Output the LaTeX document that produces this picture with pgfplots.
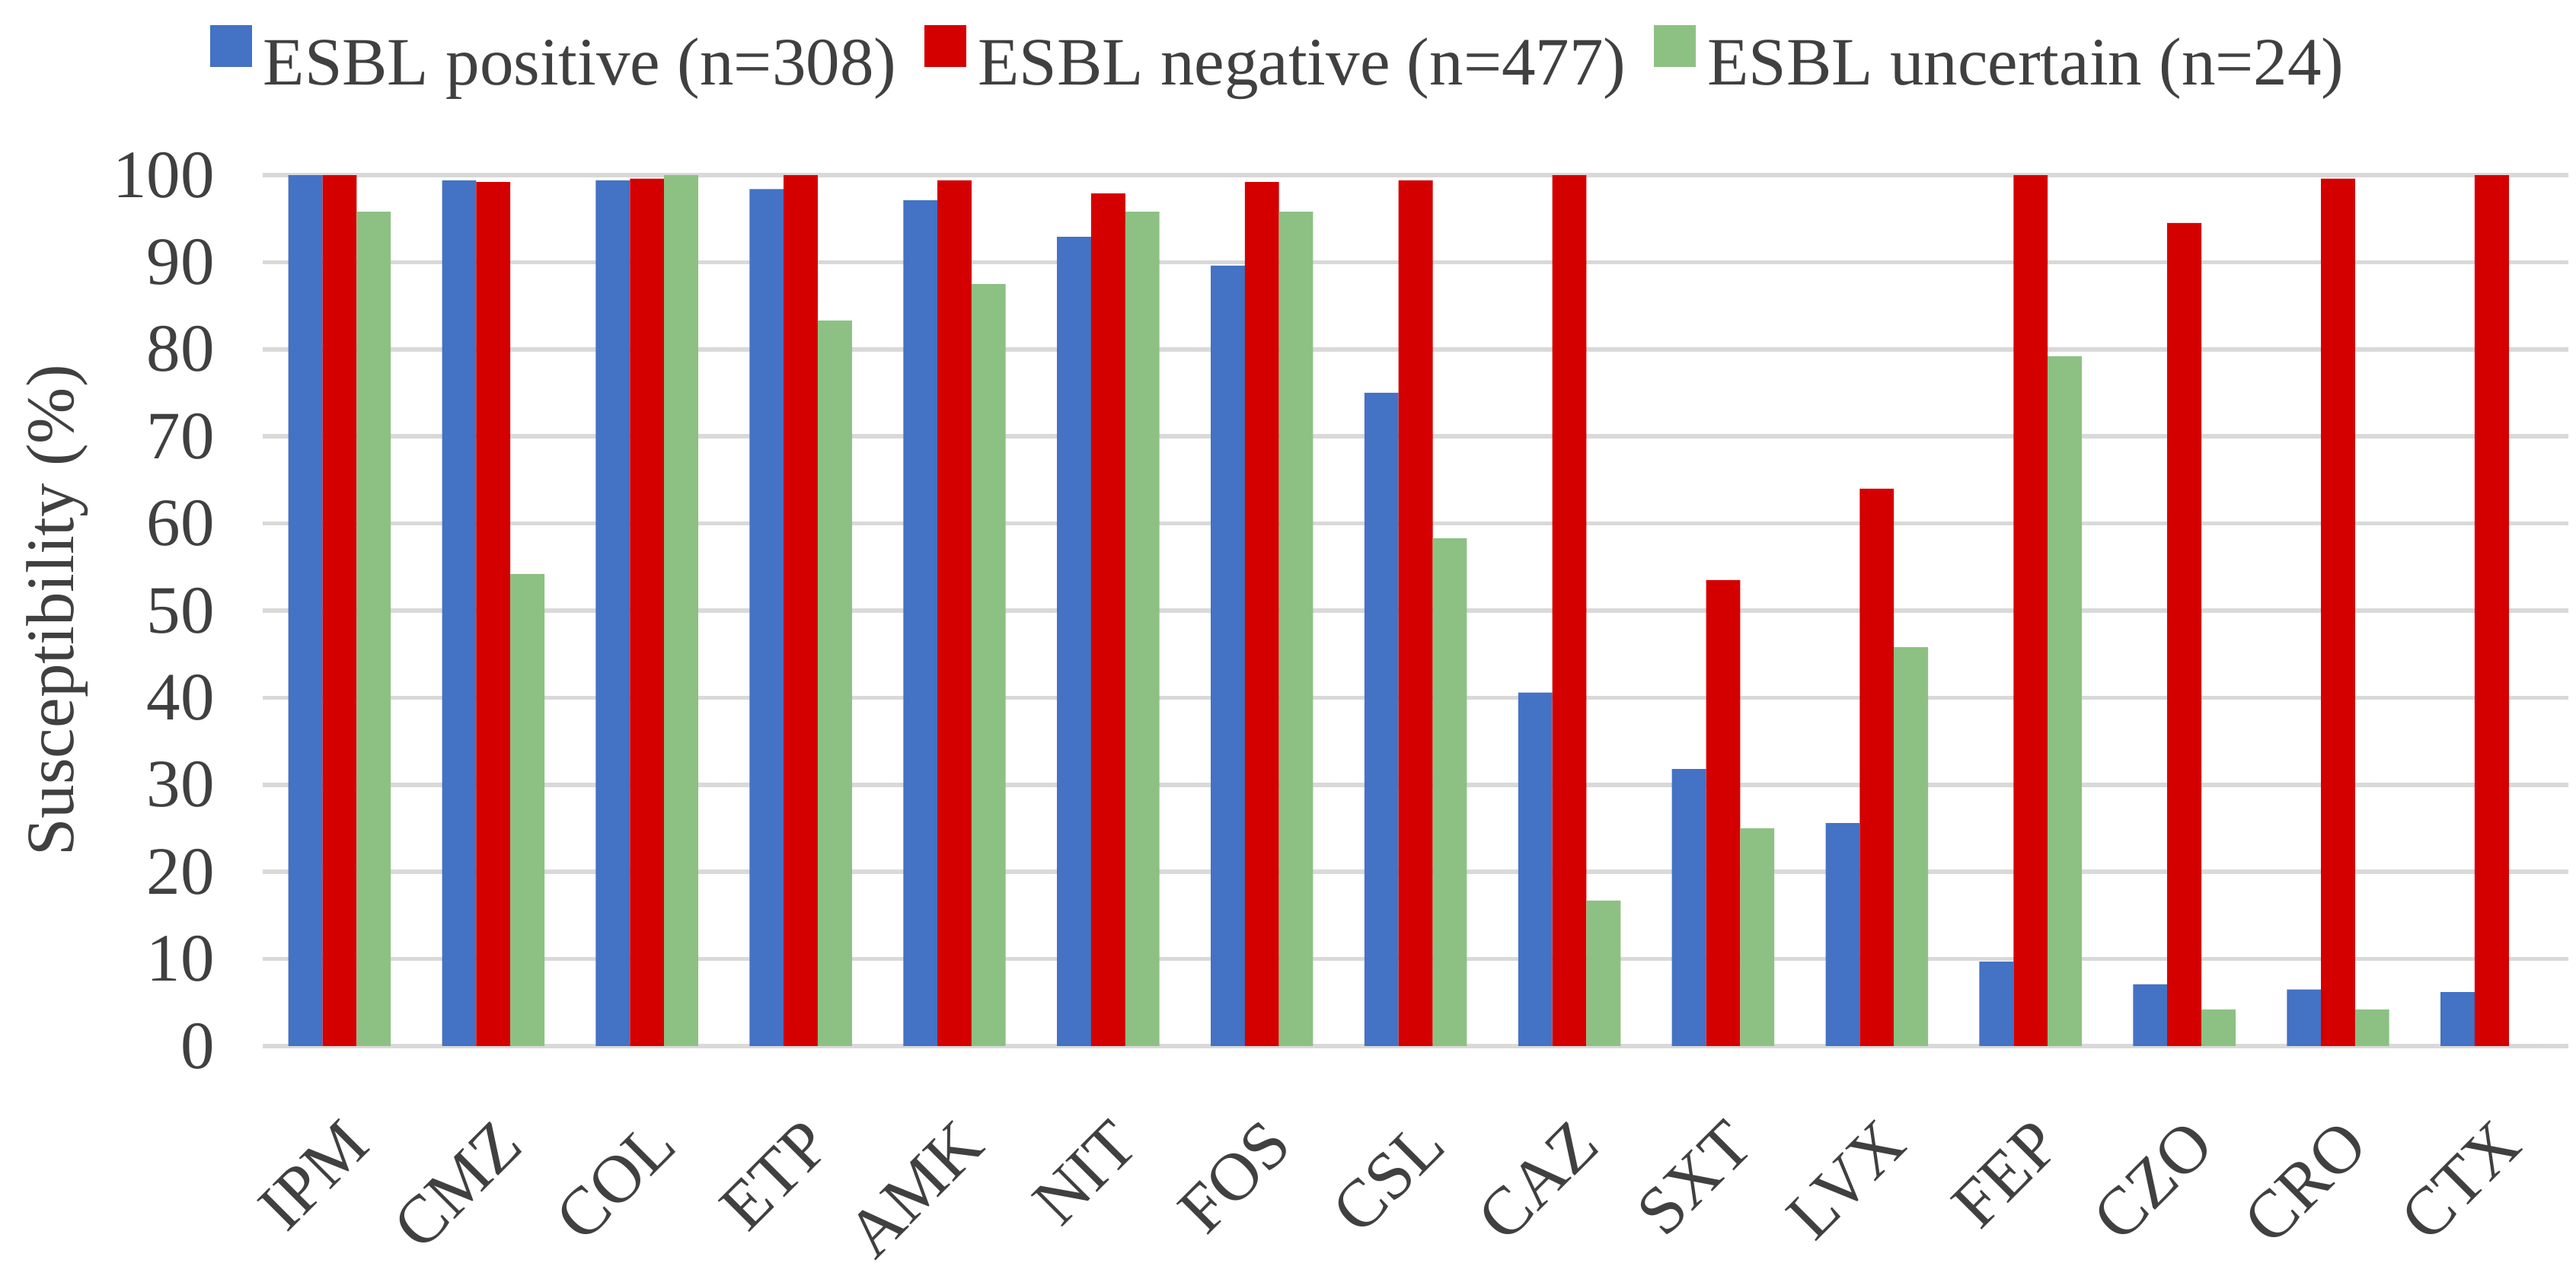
\documentclass[border=0pt]{standalone}
\usepackage{fontspec}
\setmainfont{Liberation Serif}
\usepackage{pgfplots}
\usepackage{pgfplotstable}
\pgfplotsset{compat=1.18}
\definecolor{cpos}{HTML}{4472C4}
\definecolor{cneg}{HTML}{D40000}
\definecolor{cunc}{HTML}{8CC183}
\definecolor{cgrid}{HTML}{D9D9D9}
\definecolor{ctext}{HTML}{404040}
\pgfplotstableread{
x pos neg unc
0 100 100 95.8
1 99.4 99.2 54.2
2 99.4 99.6 100
3 98.4 100 83.3
4 97.1 99.4 87.5
5 92.9 97.9 95.8
6 89.6 99.2 95.8
7 75.0 99.4 58.3
8 40.6 100 16.7
9 31.8 53.5 25.0
10 25.6 64.0 45.8
11 9.7 100 79.2
12 7.1 94.5 4.2
13 6.5 99.6 4.2
14 6.2 100 0
}\datatable
\begin{document}
\begin{tikzpicture}
\begin{axis}[
  width=408.2pt, height=154.2pt, scale only axis,
  xmin=-0.5, xmax=14.5, ymin=0, ymax=100,
  ytick={0,10,...,100},
  xtick={0,...,14},
  xticklabels={IPM,CMZ,COL,ETP,AMK,NIT,FOS,CSL,CAZ,SXT,LVX,FEP,CZO,CRO,CTX},
  axis line style={draw=none},
  major tick length=0pt,
  ymajorgrids, grid style={cgrid, line width=0.75pt},
  /pgf/number format/assume math mode=true,
  tick label style={font=\fontsize{12}{14.4}\selectfont, text=ctext},
  yticklabel style={anchor=east, xshift=-5pt},
  xticklabel style={rotate=45, anchor=east, inner sep=0pt, xshift=-8.6pt, yshift=-13.0pt},
  ylabel={Susceptibility (\%)},
  ylabel style={at={(axis description cs:0,0.5)}, anchor=center, yshift=36.4pt, font=\fontsize{12}{14.4}\selectfont, text=ctext},
  ybar, bar width=0.222,
  legend columns=3,
  legend style={draw=none, fill=none, at={(0.4424,1)}, anchor=center, yshift=19.5pt,
    font=\fontsize{12}{14.4}\selectfont, text=ctext,
    /tikz/every even column/.append style={column sep=3pt}},
  legend image code/.code={\fill[#1] (1.5pt,-0.3pt) rectangle (8.9pt,7.1pt);},
]
\addplot[fill=cpos, draw=none, bar shift=-0.222] table[x=x,y=pos]{\datatable};
\addplot[fill=cneg, draw=none, bar shift=0] table[x=x,y=neg]{\datatable};
\addplot[fill=cunc, draw=none, bar shift=0.222] table[x=x,y=unc]{\datatable};
\legend{ESBL positive (n=308), ESBL negative (n=477), ESBL uncertain (n=24)}
\end{axis}
\pgfresetboundingbox
\path[use as bounding box] ([xshift=-46.5pt,yshift=-40.6pt]current axis.south west) rectangle ([xshift=1.3pt,yshift=31.0pt]current axis.north east);
\end{tikzpicture}
\end{document}
